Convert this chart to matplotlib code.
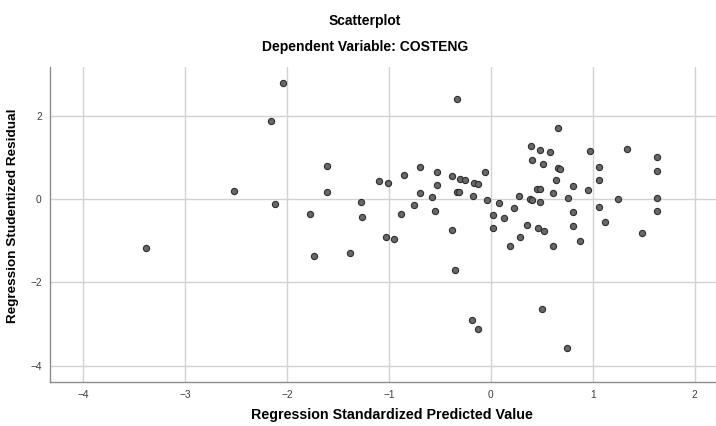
import matplotlib
matplotlib.use("Agg")
import matplotlib.pyplot as plt

# predicted (standardized) vs studentized residual
pred = [-3.385, -2.519, -2.158, -2.043, -2.116, -1.775, -1.736, -1.608, -1.608,
        -1.386, -1.278, -1.268, -1.098, -1.013, -0.856, -0.696, -0.529, -0.382,
        -0.306, -0.254, -0.169, -0.124, -0.061, -0.330, -0.529, -0.696, -0.581,
        -0.752, -0.879, -0.549, -1.026, -0.951, -0.382, -0.330, -0.316, -0.179,
        -0.041, 0.077, 0.024, 0.129, 0.021, 0.224, 0.276, 0.184, 0.289, 0.351,
        0.381, 0.403, 0.479, 0.455, 0.479, 0.459, 0.521, 0.606, 0.393, 0.479,
        0.583, 0.403, 0.511, 0.658, 0.655, 0.678, 0.639, 0.606, 0.498, 0.753,
        0.806, 0.806, 0.806, 0.878, 0.744, 0.953, 0.976, 1.061, 1.061, 1.061,
        1.123, 1.250, 1.336, 1.486, 1.633, 1.633, 1.633, 1.633, -0.349, -0.189,
        -0.124]
resid = [-1.176, 0.192, 1.864, 2.790, -0.120, -0.360, -1.360, 0.800, 0.160,
         -1.290, -0.080, -0.420, 0.432, 0.384, 0.568, 0.776, 0.648, 0.544,
         0.488, 0.456, 0.384, 0.352, 0.648, 2.400, 0.328, 0.136, 0.048,
         -0.144, -0.368, -0.288, -0.904, -0.952, -0.736, 0.176, 0.176, 0.072,
         -0.016, -0.104, -0.384, -0.464, -0.704, -0.216, 0.064, -1.136, -0.912, -0.624,
         -0.008, -0.016, -0.080, 0.248, 0.232, -0.704, -0.760, 0.144, 1.280, 1.184,
         1.120, 0.928, 0.848, 1.696, 0.744, 0.728, 0.448, -1.128, -2.648, 0.032,
         0.320, -0.320, -0.640, -1.008, -3.576, 0.208, 1.160, 0.776, 0.448, -0.184,
         -0.560, -0.008, 1.208, -0.816, 1.000, 0.680, 0.032, -0.288, -1.704, -2.904,
         -3.128]

xticks = [-4, -3, -2, -1, 0, 1, 2]
yticks = [-4, -2, 0, 2]

plt.rcParams["font.family"] = ["Liberation Sans", "DejaVu Sans"]

fig = plt.figure(figsize=(7.16, 4.26), dpi=100)
ax = fig.add_axes([50 / 716, 1 - 382 / 426, 666 / 716, 315 / 426])

ax.scatter(pred, resid, s=20, c="#686868", edgecolors="#2e2e2e",
           linewidths=0.8, zorder=3)

ax.set_xlim(-4.327, 2.209)
ax.set_ylim(-4.39, 3.17)
ax.set_xticks(xticks)
ax.set_yticks(yticks)
ax.grid(True, color="#d2d2d2", linewidth=1.0, zorder=0)
ax.set_axisbelow(True)
for s in ["top", "right"]:
    ax.spines[s].set_visible(False)
for s in ["left", "bottom"]:
    ax.spines[s].set_color("#8c8c8c")
    ax.spines[s].set_linewidth(1.0)
ax.tick_params(length=0, labelsize=7.3, labelcolor="#3c3c3c", pad=6)

ax.set_xlabel("Regression Standardized Predicted Value", fontsize=10.3,
              fontweight="bold")
ax.xaxis.set_label_coords(0.5135, -0.082)
ax.set_ylabel("Regression Studentized Residual", fontsize=9.7,
              fontweight="bold")
ax.yaxis.set_label_coords(-0.046, 0.527)

fig.text(0.51, 0.951, "Scatterplot", ha="center", va="center",
         fontsize=10, fontweight="bold")
fig.text(0.51, 0.890, "Dependent Variable: COSTENG", ha="center", va="center",
         fontsize=10, fontweight="bold")

fig.savefig("out.png", dpi=100)
